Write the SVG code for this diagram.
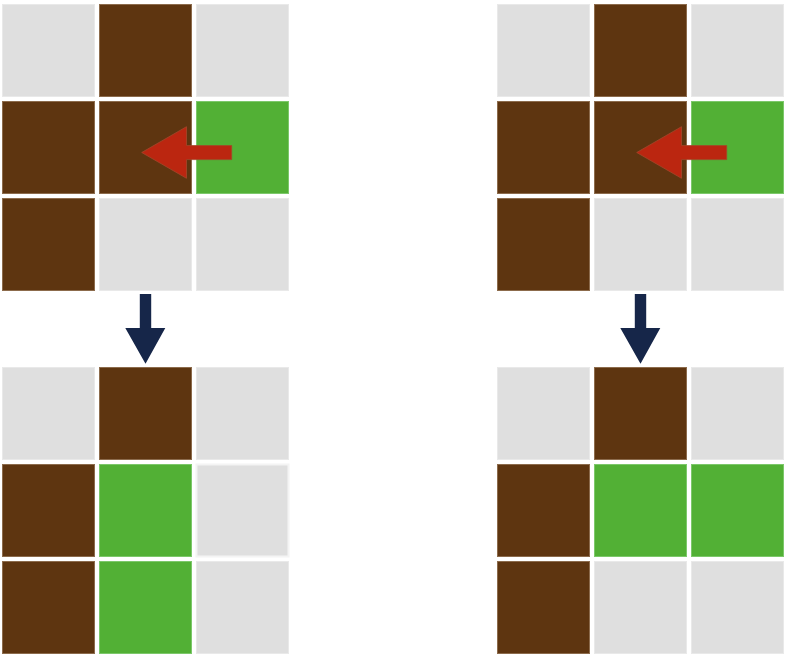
<svg xmlns="http://www.w3.org/2000/svg" width="786" height="657" viewBox="0 0 786 657">
<style>
.g{fill:#dfdfdf;stroke:#e9e9e9;stroke-width:1}
.b{fill:#5e3510;stroke:#8c6b4c;stroke-width:1}
.v{fill:#52b035;stroke:#7cc86a;stroke-width:1}
.r{fill:#bb2610;stroke:#a4462a;stroke-width:0.8}
.n{fill:#162649}
</style>
<defs>
<path id="la" d="M141.7,152.5 L186.5,126.7 L186.5,145.6 L231.7,145.6 L231.7,159.6 L186.5,159.6 L186.5,178.3 Z"/>
<path id="da" d="M139.8,294 L151.2,294 L151.2,328 L165.3,328 L145.5,363.7 L125.3,328 L139.8,328 Z"/>
</defs>
<g id="grid-top-left">
<rect class="g" x="2.5" y="4.5" width="92" height="92"/>
<rect class="b" x="99.5" y="4.5" width="92" height="92"/>
<rect class="g" x="196.5" y="4.5" width="92" height="92"/>
<rect class="b" x="2.5" y="101.5" width="92" height="92"/>
<rect class="b" x="99.5" y="101.5" width="92" height="92"/>
<rect class="v" x="196.5" y="101.5" width="92" height="92"/>
<rect class="b" x="2.5" y="198.5" width="92" height="92"/>
<rect class="g" x="99.5" y="198.5" width="92" height="92"/>
<rect class="g" x="196.5" y="198.5" width="92" height="92"/>
</g>
<g id="grid-top-right">
<rect class="g" x="497.5" y="4.5" width="92" height="92"/>
<rect class="b" x="594.5" y="4.5" width="92" height="92"/>
<rect class="g" x="691.5" y="4.5" width="92" height="92"/>
<rect class="b" x="497.5" y="101.5" width="92" height="92"/>
<rect class="b" x="594.5" y="101.5" width="92" height="92"/>
<rect class="v" x="691.5" y="101.5" width="92" height="92"/>
<rect class="b" x="497.5" y="198.5" width="92" height="92"/>
<rect class="g" x="594.5" y="198.5" width="92" height="92"/>
<rect class="g" x="691.5" y="198.5" width="92" height="92"/>
</g>
<g id="grid-bottom-left">
<rect class="g" x="2.5" y="367.5" width="92" height="92"/>
<rect class="b" x="99.5" y="367.5" width="92" height="92"/>
<rect class="g" x="196.5" y="367.5" width="92" height="92"/>
<rect class="b" x="2.5" y="464.5" width="92" height="92"/>
<rect class="v" x="99.5" y="464.5" width="92" height="92"/>
<rect class="g" x="196.5" y="464.5" width="92" height="92" style="stroke:#f4f4f4;stroke-width:2"/>
<rect class="b" x="2.5" y="561.5" width="92" height="92"/>
<rect class="v" x="99.5" y="561.5" width="92" height="92"/>
<rect class="g" x="196.5" y="561.5" width="92" height="92"/>
</g>
<g id="grid-bottom-right">
<rect class="g" x="497.5" y="367.5" width="92" height="92"/>
<rect class="b" x="594.5" y="367.5" width="92" height="92"/>
<rect class="g" x="691.5" y="367.5" width="92" height="92"/>
<rect class="b" x="497.5" y="464.5" width="92" height="92"/>
<rect class="v" x="594.5" y="464.5" width="92" height="92"/>
<rect class="v" x="691.5" y="464.5" width="92" height="92"/>
<rect class="b" x="497.5" y="561.5" width="92" height="92"/>
<rect class="g" x="594.5" y="561.5" width="92" height="92"/>
<rect class="g" x="691.5" y="561.5" width="92" height="92"/>
</g>
<g id="connectors">
<use href="#la" class="r"/>
<use href="#la" class="r" transform="translate(495,0)"/>
<use href="#da" class="n"/>
<use href="#da" class="n" transform="translate(495,0)"/>
</g>
</svg>
